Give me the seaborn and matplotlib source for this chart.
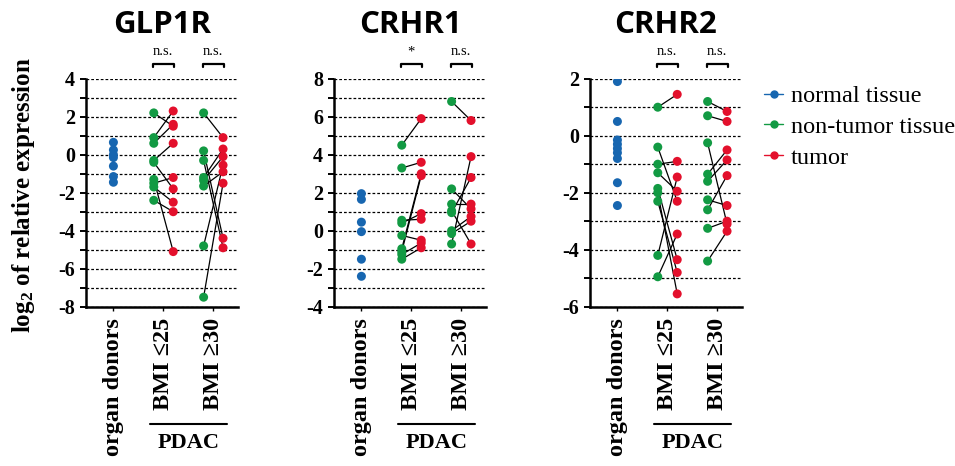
import numpy as np
import pandas as pd
import matplotlib
matplotlib.use('Agg')
import matplotlib.pyplot as plt
import matplotlib.ticker as ticker
from matplotlib.lines import Line2D
import seaborn as sns

# Genes, groups and significance labels
genes = ['GLP1R', 'CRHR1', 'CRHR2']
groups = ['organ donors', 'BMI ≤25', 'BMI ≥30']
tissues = ['normal tissue', 'non-tumor tissue', 'tumor']
y_limits = {'GLP1R': (-8, 4), 'CRHR1': (-4, 8), 'CRHR2': (-6, 2)}
significance = {'GLP1R': ['n.s.', 'n.s.'], 'CRHR1': ['*', 'n.s.'], 'CRHR2': ['n.s.', 'n.s.']}

# log2 relative expression
# GLP1R
glp1r_donors = [0.65, 0.25, 0.0, -0.15, -0.6, -1.15, -1.45]
glp1r_bmi25_nontumor = [2.2, 0.9, 0.6, -0.3, -0.4, -1.3, -1.5, -1.7, -2.4]
glp1r_bmi25_tumor = [1.5, 2.3, 1.6, 0.6, -1.8, -5.1, -1.2, -2.5, -3.0]
glp1r_bmi30_nontumor = [2.2, 0.2, -0.3, -1.2, -1.35, -1.65, -4.8, -7.5]
glp1r_bmi30_tumor = [0.9, -4.4, -4.9, 0.3, -0.1, -0.9, -0.55, -1.5]
# CRHR1
crhr1_donors = [1.95, 1.65, 0.45, -0.05, -1.5, -2.4]
crhr1_bmi25_nontumor = [4.5, 3.3, 0.55, 0.4, -0.25, -0.95, -1.1, -1.25, -1.5]
crhr1_bmi25_tumor = [5.9, 3.6, 0.6, 0.9, -0.5, 3.0, 2.9, -0.65, -0.9]
crhr1_bmi30_nontumor = [6.8, 2.2, 1.4, 1.05, 0.95, 0.0, -0.15, -0.7]
crhr1_bmi30_tumor = [5.8, 1.15, 1.4, -0.7, 2.8, 0.75, 0.5, 3.9]
# CRHR2
crhr2_donors = [1.9, 0.5, -0.15, -0.3, -0.45, -0.6, -0.8, -1.65, -2.45]
crhr2_bmi25_nontumor = [1.0, -0.4, -1.0, -1.3, -1.85, -2.0, -2.3, -4.2, -4.95]
crhr2_bmi25_tumor = [1.45, -2.3, -0.9, -1.95, -4.35, -5.55, -4.8, -1.45, -3.45]
crhr2_bmi30_nontumor = [1.2, 0.7, -0.25, -1.35, -1.6, -2.25, -2.6, -3.25, -4.4]
crhr2_bmi30_tumor = [0.85, 0.5, -3.1, -0.5, -0.85, -2.45, -1.4, -3.0, -3.35]

data = {
    'GLP1R': (glp1r_donors, [(glp1r_bmi25_nontumor, glp1r_bmi25_tumor), (glp1r_bmi30_nontumor, glp1r_bmi30_tumor)]),
    'CRHR1': (crhr1_donors, [(crhr1_bmi25_nontumor, crhr1_bmi25_tumor), (crhr1_bmi30_nontumor, crhr1_bmi30_tumor)]),
    'CRHR2': (crhr2_donors, [(crhr2_bmi25_nontumor, crhr2_bmi25_tumor), (crhr2_bmi30_nontumor, crhr2_bmi30_tumor)]),
}

# Build a long table
offset = {'normal tissue': 0.0, 'non-tumor tissue': -0.19, 'tumor': 0.2}
rows = []
for gene, (donors, pdac) in data.items():
    for v in donors:
        rows.append(dict(gene=gene, group=0, tissue='normal tissue', pair=None, value=v))
    for gi, (nt, tu) in enumerate(pdac, start=1):
        for i, (a, b) in enumerate(zip(nt, tu)):
            pid = f'{gene}-{gi}-{i}'
            rows.append(dict(gene=gene, group=gi, tissue='non-tumor tissue', pair=pid, value=a))
            rows.append(dict(gene=gene, group=gi, tissue='tumor', pair=pid, value=b))
df = pd.DataFrame(rows)
df['x'] = df['group'] + df['tissue'].map(offset)

palette = {'normal tissue': '#1766b0', 'non-tumor tissue': '#129a43', 'tumor': '#e3102c'}

sns.set_style('ticks')
plt.rcParams['font.family'] = ['Liberation Serif', 'DejaVu Serif']
plt.rcParams.update({
    'mathtext.default': 'regular',
    'axes.unicode_minus': False,
    'text.color': 'black',
    'axes.labelcolor': 'black',
    'xtick.color': 'black',
    'ytick.color': 'black',
})

fig = plt.figure(figsize=(9.55, 4.66), dpi=100)
lefts = [86 / 955, 334 / 955, 590 / 955]
bottom = (466 - 306.7) / 466
height = 228 / 466
width = 152 / 955

for gene, left in zip(genes, lefts):
    ax = fig.add_axes([left, bottom, width, height])
    sub = df[df['gene'] == gene]
    sns.lineplot(data=sub[sub['pair'].notna()], x='x', y='value', units='pair',
                 estimator=None, sort=False, color='black', linewidth=0.9,
                 ax=ax, zorder=2, legend=False)
    sns.scatterplot(data=sub, x='x', y='value', hue='tissue', palette=palette,
                    s=42, linewidth=0, ax=ax, zorder=3, legend=False)

    ax.set_xlim(-0.55, 2.5)
    ax.set_ylim(*y_limits[gene])
    ax.yaxis.set_major_locator(ticker.MultipleLocator(2))
    ax.yaxis.set_minor_locator(ticker.MultipleLocator(1))
    ax.grid(axis='y', which='both', color='black', linestyle=(0, (2.2, 1.6)), linewidth=0.9)
    ax.set_axisbelow(True)
    sns.despine(ax=ax)
    for s in ['left', 'bottom']:
        ax.spines[s].set_linewidth(1.8)
        ax.spines[s].set_color('black')

    ax.set_xticks(range(len(groups)))
    ax.set_xticklabels(groups, rotation=90, fontsize=17.5, fontweight='bold', va='top')
    ax.tick_params(axis='x', length=3, width=1, pad=5)
    ax.tick_params(axis='y', which='both', length=4, width=1.4, pad=4, labelsize=14.5)
    for lab in ax.get_yticklabels():
        lab.set_fontweight('bold')
    ax.set_xlabel('')
    ax.set_ylabel('')

    # gene title
    ax.text(0.5, 1.2, gene, transform=ax.transAxes, ha='center', va='baseline',
            fontsize=22.5, fontweight='bold', family='Open Sans')

    # significance brackets
    tr = ax.get_xaxis_transform()
    for gi, lab in zip([1, 2], significance[gene]):
        x0, x1 = gi - 0.21, gi + 0.22
        ax.plot([x0, x0, x1, x1], [1.05, 1.066, 1.066, 1.05], transform=tr,
                color='black', lw=1.6, clip_on=False)
        ax.text(gi, 1.09, lab, transform=tr, ha='center', va='bottom', fontsize=10.5)

    # PDAC bracket under the BMI groups
    ax.plot([0.74, 2.28], [-0.515, -0.515], transform=tr, color='black', lw=1.5, clip_on=False)
    ax.text(1.5, -0.555, 'PDAC', transform=tr, ha='center', va='top',
            fontsize=16, fontweight='bold')

fig.text(24 / 955, 1 - 195 / 466, r'log$_2$ of relative expression', rotation=90,
         ha='center', va='center', fontsize=18, fontweight='bold')

handles = [Line2D([], [], color=palette[t], marker='o', markersize=5, linewidth=1) for t in tissues]
fig.legend(handles, tissues, loc='upper left', bbox_to_anchor=(764 / 955, 1 - 85 / 466),
           frameon=False, fontsize=17.5, handlelength=0.8, handletextpad=0.3,
           labelspacing=0.36, borderaxespad=0, borderpad=0)

fig.savefig('out.png', dpi=100)
